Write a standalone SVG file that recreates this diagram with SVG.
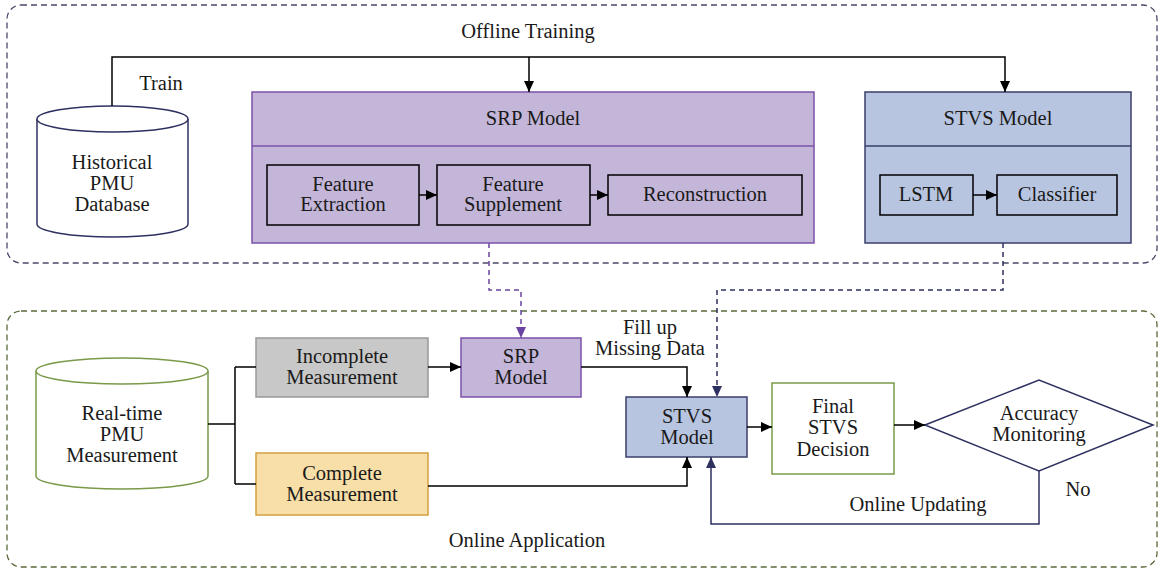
<svg xmlns="http://www.w3.org/2000/svg" width="1159" height="572" viewBox="0 0 1159 572">
<style>
text{font-family:"Liberation Serif","Times New Roman",serif;font-size:20.5px;fill:#1a1a1a;text-anchor:middle}
.ln{fill:none;stroke:#000;stroke-width:1.5}
.nv{fill:none;stroke:#2e3160;stroke-width:1.5}
.purp{fill:#c3b6d8;stroke:#7b52ab;stroke-width:1.5}
.blue{fill:#b8c5e0;stroke:#3a3f6a;stroke-width:1.5}
.inner{stroke:#000;stroke-width:1.5}
</style>
<defs>
<marker id="ab" markerWidth="12" markerHeight="10" refX="11" refY="5" orient="auto" markerUnits="userSpaceOnUse"><path d="M0,0 L11,5 L0,10 Z" fill="#000"/></marker>
<marker id="ap" markerWidth="12" markerHeight="10" refX="11" refY="5" orient="auto" markerUnits="userSpaceOnUse"><path d="M0,0 L11,5 L0,10 Z" fill="#6a44a0"/></marker>
<marker id="an" markerWidth="12" markerHeight="10" refX="11" refY="5" orient="auto" markerUnits="userSpaceOnUse"><path d="M0,0 L11,5 L0,10 Z" fill="#2e3160"/></marker>
</defs>
<g id="offline-container">
<rect x="7" y="5" width="1150" height="258" rx="14" fill="none" stroke="#4a4a6a" stroke-width="1.3" stroke-dasharray="6,4"/>
<text x="528" y="38">Offline Training</text>
</g>
<g id="online-container">
<rect x="7" y="311" width="1150" height="256" rx="14" fill="none" stroke="#5a6b3a" stroke-width="1.3" stroke-dasharray="6,4"/>
<text x="527" y="547">Online Application</text>
</g>
<g id="historical-db">
<path d="M37,119 V224 A75.5,13 0 0 0 188,224 V119" fill="#fff" stroke="#2e3160" stroke-width="1.5"/>
<ellipse cx="112.5" cy="119" rx="75.5" ry="13" fill="#fff" stroke="#2e3160" stroke-width="1.5"/>
<text x="112" y="169">Historical</text>
<text x="112" y="190">PMU</text>
<text x="112" y="211">Database</text>
</g>
<g id="srp-model">
<rect x="252" y="92" width="562" height="151" class="purp"/>
<line x1="252" y1="146" x2="814" y2="146" stroke="#7b52ab" stroke-width="1.5"/>
<text x="533" y="125">SRP Model</text>
</g>
<g id="feature-extraction">
<rect x="267" y="165" width="152" height="60" fill="#c3b6d8" class="inner"/>
<text x="343" y="191">Feature</text>
<text x="343" y="211">Extraction</text>
</g>
<g id="feature-supplement">
<rect x="437" y="165" width="153" height="60" fill="#c3b6d8" class="inner"/>
<text x="513" y="191">Feature</text>
<text x="513" y="211">Supplement</text>
</g>
<g id="reconstruction">
<rect x="608" y="175" width="194" height="40" fill="#c3b6d8" class="inner"/>
<text x="705" y="201">Reconstruction</text>
</g>
<g id="stvs-model">
<rect x="865" y="92" width="266" height="151" class="blue"/>
<line x1="865" y1="146" x2="1131" y2="146" stroke="#3a3f6a" stroke-width="1.5"/>
<text x="998" y="125">STVS Model</text>
</g>
<g id="lstm">
<rect x="880" y="175" width="93" height="40" fill="#b8c5e0" class="inner"/>
<text x="926" y="201">LSTM</text>
</g>
<g id="classifier">
<rect x="997" y="175" width="120" height="40" fill="#b8c5e0" class="inner"/>
<text x="1057" y="201">Classifier</text>
</g>
<g id="realtime-db">
<path d="M36,371 V476 A86,13 0 0 0 208,476 V371" fill="#fff" stroke="#7a9a4a" stroke-width="1.5"/>
<ellipse cx="122" cy="371" rx="86" ry="13" fill="#fff" stroke="#7a9a4a" stroke-width="1.5"/>
<text x="122" y="420">Real-time</text>
<text x="122" y="441">PMU</text>
<text x="122" y="462">Measurement</text>
</g>
<g id="incomplete">
<rect x="256" y="338" width="172" height="59" fill="#c8c8c8" stroke="#999" stroke-width="1.5"/>
<text x="342" y="363">Incomplete</text>
<text x="342" y="384">Measurement</text>
</g>
<g id="complete">
<rect x="256" y="453" width="172" height="62" fill="#f8dfa8" stroke="#d4a040" stroke-width="1.5"/>
<text x="342" y="480">Complete</text>
<text x="342" y="501">Measurement</text>
</g>
<g id="srp-small">
<rect x="461" y="338" width="120" height="59" class="purp"/>
<text x="521" y="363">SRP</text>
<text x="521" y="384">Model</text>
</g>
<g id="stvs-small">
<rect x="626" y="397" width="121" height="60" class="blue"/>
<text x="687" y="423">STVS</text>
<text x="687" y="444">Model</text>
</g>
<g id="final-decision">
<rect x="772" y="383" width="122" height="91" fill="#fff" stroke="#7a9a4a" stroke-width="1.5"/>
<text x="833" y="413">Final</text>
<text x="833" y="434">STVS</text>
<text x="833" y="456">Decision</text>
</g>
<g id="accuracy">
<path d="M925,425 L1039,380 L1153,425 L1039,471 Z" fill="#fff" stroke="#2e3160" stroke-width="1.5"/>
<text x="1039" y="420">Accuracy</text>
<text x="1039" y="441">Monitoring</text>
</g>
<g id="connectors">
<path d="M112,106 V57 H1005 V92" class="ln" marker-end="url(#ab)"/>
<path d="M529,57 V92" class="ln" marker-end="url(#ab)"/>
<text x="161" y="90">Train</text>
<path d="M419,195 H437" class="ln" marker-end="url(#ab)"/>
<path d="M590,195 H608" class="ln" marker-end="url(#ab)"/>
<path d="M973,195 H997" class="ln" marker-end="url(#ab)"/>
<path d="M489,243 V290 H521 V338" fill="none" stroke="#6a44a0" stroke-width="1.5" stroke-dasharray="5,4" marker-end="url(#ap)"/>
<path d="M1003,243 V290 H717 V397" fill="none" stroke="#2e3160" stroke-width="1.5" stroke-dasharray="5,4" marker-end="url(#an)"/>
<path d="M208,424 H235 M235,367 V484 M235,367 H256 M235,484 H256" class="ln"/>
<path d="M428,367 H461" class="ln" marker-end="url(#ab)"/>
<path d="M581,367 H687 V397" class="ln" marker-end="url(#ab)"/>
<text x="650" y="334">Fill up</text>
<text x="650" y="355">Missing Data</text>
<path d="M428,486 H687 V457" class="ln" marker-end="url(#ab)"/>
<path d="M747,427 H772" class="ln" marker-end="url(#ab)"/>
<path d="M894,425 H925" class="ln" marker-end="url(#ab)"/>
<path d="M1039,471 V524 H711 V457" class="nv" marker-end="url(#an)"/>
<text x="1078" y="496">No</text>
<text x="918" y="511">Online Updating</text>
</g>
</svg>
